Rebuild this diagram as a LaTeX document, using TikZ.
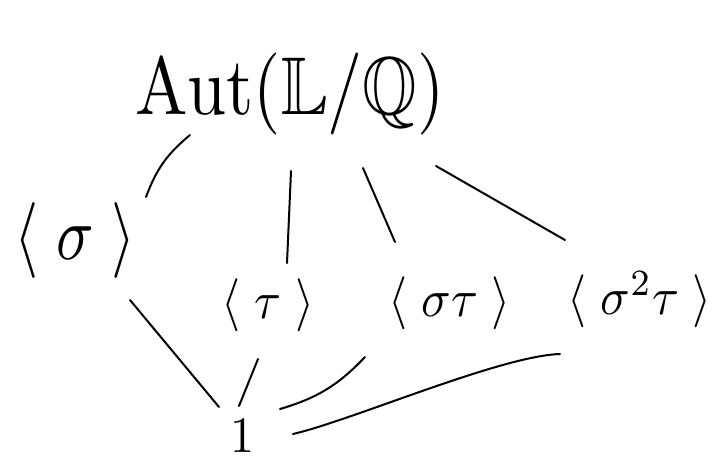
\documentclass[tikz,border=0pt]{standalone}
\usepackage{graphicx}
\usepackage{amssymb}
\begin{document}
\begin{tikzpicture}[x=1pt,y=-1pt,
  lbl/.style={inner sep=0pt},
  edge/.style={line width=2pt,line cap=round}]
\useasboundingbox (0,0) rectangle (720,464);
\node[lbl] (top) at (290,94) {\scalebox{7}[8.2]{$\mathrm{Aut}(\mathbb{L}/\mathbb{Q})$}};
\node[lbl] (s) at (75,240) {\scalebox{6.2}[7.6]{$\langle\;\sigma\;\rangle$}};
\node[lbl] (t) at (268,305) {\scalebox{4.9}[5.3]{$\langle\;\tau\;\rangle$}};
\node[lbl] (st) at (450,303) {\scalebox{4.9}[5.3]{$\langle\;\sigma\tau\;\rangle$}};
\node[lbl] (sst) at (640,300) {\scalebox{4.9}[5.3]{$\langle\;\sigma^2\tau\;\rangle$}};
\node[lbl] (one) at (242,436) {\scalebox{4.8}[5.1]{$1$}};
\draw[edge] ([shift={(-100,41)}]top.center) to[bend right=15] ([shift={(71,-43)}]s.center);
\draw[edge] ([shift={(1,77)}]top.center) -- ([shift={(19,-42)}]t.center);
\draw[edge] ([shift={(73,74)}]top.center) -- ([shift={(-55,-61)}]st.center);
\draw[edge] ([shift={(146,72)}]top.center) -- ([shift={(-75,-60)}]sst.center);
\draw[edge] ([shift={(55,60)}]s.center) -- ([shift={(-23,-29)}]one.center);
\draw[edge] ([shift={(-10,54)}]t.center) -- ([shift={(-3,-30)}]one.center);
\draw[edge] ([shift={(-85,54)}]st.center) to[bend left=15] ([shift={(38,-27)}]one.center);
\draw[edge] ([shift={(-80,54)}]sst.center) .. controls +(-60,2) and +(60,-14) .. ([shift={(51,-2)}]one.center);
\end{tikzpicture}
\end{document}
